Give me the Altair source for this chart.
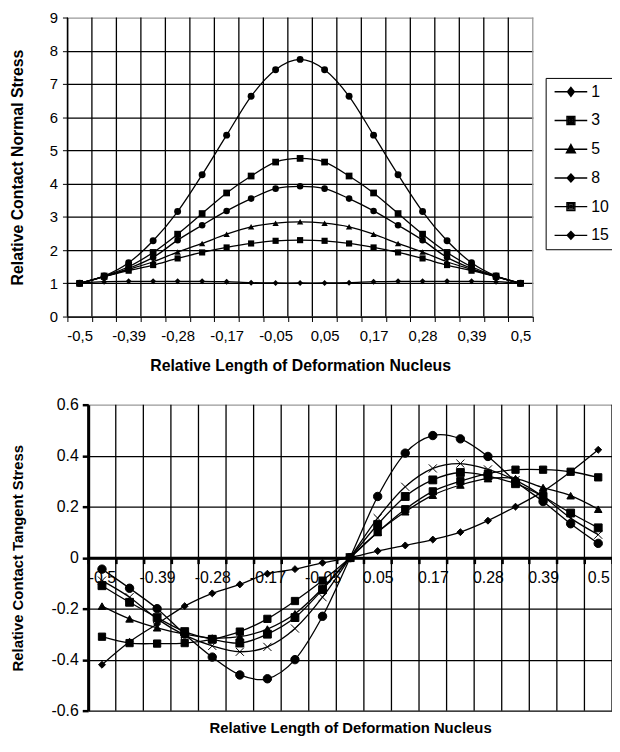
import altair as alt
import pandas as pd

FONT = "Liberation Sans"

series = ["1", "3", "5", "8", "10", "15"]
idx = list(range(19))
labels_top = ["-0,5", "", "-0,39", "", "-0,28", "", "-0,17", "", "-0,05", "",
              "0,05", "", "0,17", "", "0,28", "", "0,39", "", "0,5"]
labels_bot = ["-0.5", "", "-0.39", "", "-0.28", "", "-0.17", "", "-0.05", "",
              "0.05", "", "0.17", "", "0.28", "", "0.39", "", "0.5"]

# Relative contact normal stress
normal_1 = [1.0, 1.05, 1.06, 1.06, 1.06, 1.06, 1.05, 1.02, 1.01, 1.01, 1.01, 1.02, 1.05, 1.06, 1.06, 1.06, 1.06, 1.05, 1.0]
normal_3 = [1.0, 1.2, 1.38, 1.55, 1.75, 1.93, 2.08, 2.2, 2.28, 2.3, 2.28, 2.2, 2.08, 1.93, 1.75, 1.55, 1.38, 1.2, 1.0]
normal_5 = [1.0, 1.2, 1.42, 1.65, 1.94, 2.2, 2.48, 2.7, 2.81, 2.85, 2.81, 2.7, 2.48, 2.2, 1.94, 1.65, 1.42, 1.2, 1.0]
normal_8 = [1.0, 1.2, 1.45, 1.78, 2.3, 2.75, 3.18, 3.55, 3.85, 3.92, 3.85, 3.55, 3.18, 2.75, 2.3, 1.78, 1.45, 1.2, 1.0]
normal_10 = [1.0, 1.22, 1.5, 1.93, 2.48, 3.1, 3.72, 4.23, 4.65, 4.76, 4.65, 4.23, 3.72, 3.1, 2.48, 1.93, 1.5, 1.22, 1.0]
normal_15 = [1.0, 1.22, 1.62, 2.28, 3.16, 4.27, 5.46, 6.63, 7.43, 7.74, 7.43, 6.63, 5.46, 4.27, 3.16, 2.28, 1.62, 1.22, 1.0]

# Relative contact tangent stress
tangent_1 = [-0.42, -0.33, -0.26, -0.19, -0.14, -0.105, -0.063, -0.045, -0.02, 0, 0.026, 0.048, 0.071, 0.10, 0.145, 0.20, 0.26, 0.337, 0.423]
tangent_3 = [-0.31, -0.335, -0.337, -0.335, -0.32, -0.29, -0.24, -0.17, -0.09, 0, 0.1, 0.19, 0.26, 0.30, 0.33, 0.345, 0.345, 0.337, 0.315]
tangent_5 = [-0.19, -0.24, -0.275, -0.30, -0.315, -0.31, -0.28, -0.22, -0.12, 0, 0.10, 0.18, 0.245, 0.285, 0.31, 0.31, 0.275, 0.243, 0.19]
tangent_8 = [-0.11, -0.175, -0.235, -0.29, -0.32, -0.335, -0.30, -0.235, -0.125, 0, 0.13, 0.24, 0.305, 0.334, 0.32, 0.29, 0.24, 0.175, 0.117]
tangent_10 = [-0.09, -0.155, -0.24, -0.304, -0.346, -0.369, -0.35, -0.278, -0.155, 0, 0.155, 0.278, 0.35, 0.369, 0.346, 0.304, 0.24, 0.155, 0.09]
tangent_15 = [-0.045, -0.12, -0.20, -0.30, -0.39, -0.46, -0.475, -0.40, -0.23, 0, 0.24, 0.41, 0.479, 0.466, 0.397, 0.30, 0.22, 0.133, 0.056]


def long_table(cols):
    rows = []
    for s, vals in zip(series, cols):
        for i, v in zip(idx, vals):
            rows.append({"idx": i, "series": s, "v": v})
    return pd.DataFrame(rows)


df_n = long_table([normal_1, normal_3, normal_5, normal_8, normal_10, normal_15])
df_t = long_table([tangent_1, tangent_3, tangent_5, tangent_8, tangent_10, tangent_15])
df_cat = pd.DataFrame({"idx": idx})


def label_expr(labels):
    return "[" + ",".join("'%s'" % l for l in labels) + "][datum.value]"


# overall drawing area (both panels share one group)
W, H = 550, 700
TOP_X = [0, 470]
TOP_Y = [302, 0]
TOP_DOM = [0, 9]
BOT_X = [21, 550]
BOT_Y = [700, 391]
BOT_DOM = [-0.6, 0.6]
BOT_ZERO = (BOT_Y[0] + BOT_Y[1]) / 2
GRID_W = 1.3

common_axis = dict(labelFont=FONT, labelColor="black", tickColor="black", domainColor="black",
                   titleFont=FONT, titleFontWeight="bold", titleColor="black")


def xenc(rng, axis=None, **kw):
    return alt.X("idx:O", scale=alt.Scale(type="band", domain=idx, range=rng, paddingInner=0, paddingOuter=0),
                 axis=axis, **kw)


def yenc(dom, rng, axis=None):
    return alt.Y("v:Q", scale=alt.Scale(domain=dom, range=rng, nice=False), axis=axis)


def vgrid(rng, dom, yrng, band, color, data):
    return alt.Chart(data).mark_rule(color=color, strokeWidth=GRID_W).encode(
        x=xenc(rng, bandPosition=band),
        y=alt.Y(datum=dom[0], type="quantitative", scale=alt.Scale(domain=dom, range=yrng, nice=False), axis=None),
        y2=alt.Y2(datum=dom[1]),
    )


# ---------------- top panel ----------------
top_x_axis = alt.Axis(
    orient="bottom", offset=-(H - TOP_Y[0]),
    title="Relative Length of Deformation Nucleus", tickBand="extent",
    labelExpr=label_expr(labels_top), labelAngle=0, labelOverlap=False,
    labelFontSize=15, labelPadding=7, tickSize=5, grid=False,
    titleFontSize=16, titleY=49, titleBaseline="middle", **common_axis,
)
top_y_axis = alt.Axis(
    orient="left", values=list(range(10)), title="Relative Contact Normal Stress",
    labelFontSize=15, labelPadding=5, tickSize=5,
    grid=True, gridWidth=GRID_W,
    gridColor={"condition": {"test": "datum.value === 9", "value": "#999999"}, "value": "black"},
    titleFontSize=16, titleX=-50, titleBaseline="middle", **common_axis,
)

top_shapes = ["diamond", "square", "triangle-up", "circle", "square", "circle"]
top_sizes = [36, 49, 64, 25, 64, 36]


def filled_shape(pts, cx, scales=(1.0, 0.62, 0.25)):
    out = ""
    for s in scales:
        p = [(cx + x * s, y * s) for x, y in pts]
        out += "M%.2f,%.2f" % p[0] + "".join("L%.2f,%.2f" % q for q in p[1:]) + "Z"
    return out


# legend symbols: unit = 5 px; a 33 px line with the marker drawn by nested strokes
CX = 2.3
LINE = "M-1,0L5.6,0"
DIAM = [(0, -0.9), (0.7, 0), (0, 0.9), (-0.7, 0)]
SQ = [(-0.8, -0.8), (0.8, -0.8), (0.8, 0.8), (-0.8, 0.8)]
TRI = [(0, -0.95), (0.9, 0.7), (-0.9, 0.7)]
DOT = [(0, -0.8), (0.75, 0), (0, 0.8), (-0.75, 0)]
leg_paths = [
    LINE + filled_shape(DIAM, CX),
    LINE + filled_shape(SQ, CX),
    LINE + filled_shape(TRI, CX),
    LINE + filled_shape(DOT, CX),
    LINE + filled_shape(SQ, CX),
    LINE + filled_shape(DOT, CX),
]

top_grid = vgrid(TOP_X, TOP_DOM, TOP_Y, 0, "black", df_cat)
top_edge = vgrid(TOP_X, TOP_DOM, TOP_Y, 1, "#999999", df_cat[df_cat["idx"] == idx[-1]])
top_lines = alt.Chart(df_n).mark_line(interpolate="cardinal", color="black", strokeWidth=1.3).encode(
    x=xenc(TOP_X, top_x_axis), y=yenc(TOP_DOM, TOP_Y, top_y_axis), detail="series:N"
)
top_points = alt.Chart(df_n).mark_point(filled=True, color="black", opacity=1).encode(
    x=xenc(TOP_X), y=yenc(TOP_DOM, TOP_Y),
    shape=alt.Shape("series:N", scale=alt.Scale(domain=series, range=top_shapes), legend=None),
    size=alt.Size("series:N", scale=alt.Scale(domain=series, range=top_sizes), legend=None),
)
top_legend = alt.Chart(df_n).transform_filter("datum.idx < 0").mark_point(
    filled=False, color="black", strokeWidth=1.4, opacity=1
).encode(
    x=xenc(TOP_X), y=yenc(TOP_DOM, TOP_Y),
    shape=alt.Shape(
        "series:N", scale=alt.Scale(domain=series, range=leg_paths),
        legend=alt.Legend(
            title=None, orient="none", legendX=483, legendY=61,
            strokeColor="black", padding=6, symbolSize=100,
            symbolOpacity=1, symbolStrokeColor="black", symbolStrokeWidth=1.4,
            labelFont=FONT, labelFontSize=16, labelColor="black",
            labelOffset=24, rowPadding=13,
        ),
    ),
)

# ---------------- bottom panel ----------------
bot_x_axis = alt.Axis(
    orient="bottom", offset=-(H - BOT_ZERO),
    title="Relative Length of Deformation Nucleus", tickBand="extent",
    labelExpr=label_expr(labels_bot), labelAngle=0, labelOverlap=False,
    labelFontSize=16, labelPadding=6, tickSize=6, tickWidth=2.5, domainWidth=3, grid=False,
    titleFontSize=15, titleY=172, titleBaseline="middle", **common_axis,
)
bot_y_axis = alt.Axis(
    orient="left", offset=-BOT_X[0],
    values=[-0.6, -0.4, -0.2, 0, 0.2, 0.4, 0.6], title="Relative Contact Tangent Stress",
    labelExpr="datum.value == 0 ? '0' : (datum.value < 0 ? '-' : '') + format(abs(datum.value), '.1f')",
    labelFontSize=16, labelPadding=4, tickSize=6, tickWidth=2.5, domainWidth=3,
    grid=True, gridWidth=GRID_W,
    gridColor={"condition": {"test": "datum.value > 0.59", "value": "#999999"}, "value": "black"},
    titleFontSize=15, titleX=-71, titleBaseline="middle", **common_axis,
)

XPATH = "M-1,-1L1,1M-1,1L1,-1"
bot_shapes = ["diamond", "square", "triangle-up", "square", XPATH, "circle"]
bot_sizes = [49, 72, 81, 72, 30, 49]

bot_grid = vgrid(BOT_X, BOT_DOM, BOT_Y, 0, "black", df_cat)
bot_edge = vgrid(BOT_X, BOT_DOM, BOT_Y, 1, "black", df_cat[df_cat["idx"] == idx[-1]])
bot_lines = alt.Chart(df_t).mark_line(interpolate="cardinal", color="black", strokeWidth=1.3).encode(
    x=xenc(BOT_X, bot_x_axis), y=yenc(BOT_DOM, BOT_Y, bot_y_axis), detail="series:N"
)
bot_points = alt.Chart(df_t).mark_point(filled=True, color="black", stroke="black", strokeWidth=1, opacity=1).encode(
    x=xenc(BOT_X), y=yenc(BOT_DOM, BOT_Y),
    shape=alt.Shape("series:N", scale=alt.Scale(domain=series, range=bot_shapes), legend=None),
    size=alt.Size("series:N", scale=alt.Scale(domain=series, range=bot_sizes), legend=None),
)

chart = alt.layer(
    top_grid, top_edge, top_lines, top_points, top_legend,
    bot_grid, bot_edge, bot_lines, bot_points,
).resolve_scale(
    x="independent", y="independent", shape="independent", size="independent"
).resolve_axis(x="independent", y="independent").properties(
    width=W, height=H,
    autosize=alt.AutoSizeParams(type="none"),
    padding={"left": 60, "top": 6, "right": 0, "bottom": 24},
).configure_view(stroke=None)

chart.save("out.html", embed_options={"renderer": "svg", "actions": False})
